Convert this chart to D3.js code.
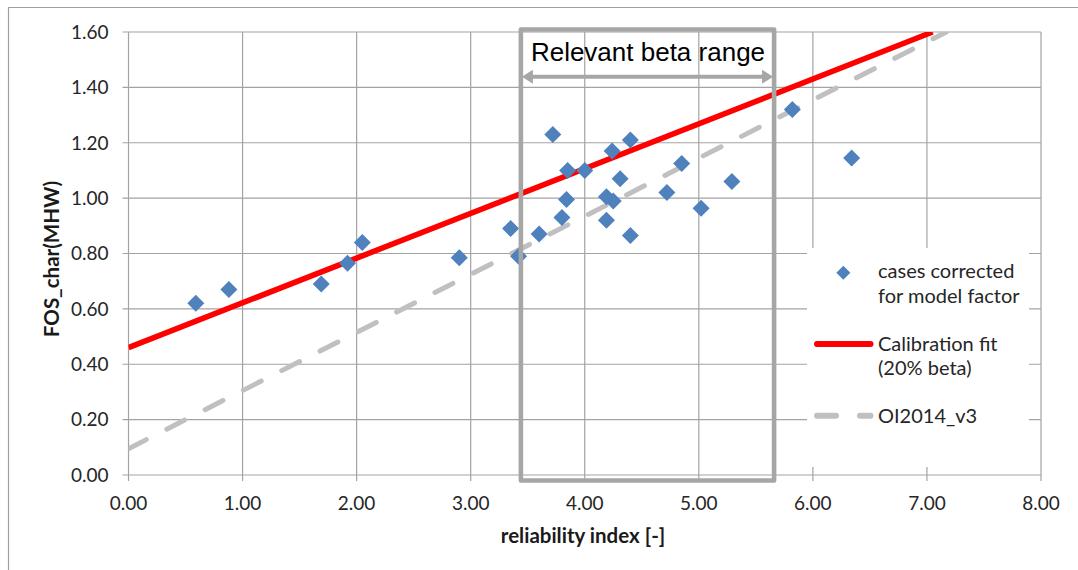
<!DOCTYPE html>
<html>
<head>
<meta charset="utf-8">
<script src="https://cdn.jsdelivr.net/npm/d3@7"></script>
<style>
  html, body { margin: 0; padding: 0; background: #ffffff; }
  svg { display: block; }
  .tick-label { font-family: Lato, "Open Sans", sans-serif; font-size: 19px; fill: #262626; }
  .axis-title { font-family: Lato, "Open Sans", sans-serif; font-size: 20.5px; font-weight: bold; fill: #1a1a1a; }
  .legend-text { font-family: Lato, "Open Sans", sans-serif; font-size: 20px; fill: #262626; }
  .note { font-family: "Liberation Sans", Arial, sans-serif; font-size: 26px; fill: #000; }
</style>
</head>
<body>
<svg id="chart" width="1078" height="570"></svg>
<script>
// Reliability index vs. characteristic factor of safety
const beta = [0.59, 0.88, 1.69, 1.92, 2.05, 2.90, 3.35, 3.42, 3.60, 3.72, 3.80, 3.84, 3.85, 4.00,
              4.19, 4.19, 4.25, 4.24, 4.31, 4.40, 4.40, 4.72, 4.85, 5.02, 5.29, 5.82, 6.34];
const fos  = [0.62, 0.67, 0.69, 0.765, 0.84, 0.785, 0.89, 0.79, 0.87, 1.23, 0.93, 0.995, 1.10, 1.10,
              0.92, 1.005, 0.99, 1.17, 1.07, 1.21, 0.865, 1.02, 1.125, 0.963, 1.06, 1.32, 1.145];

// Calibration fit (20% beta): end points
const fitBeta = [0, 7.05];
const fitFos  = [0.46, 1.60];

// OI2014_v3 reference line: end points
const oiBeta = [0, 7.17];
const oiFos  = [0.095, 1.60];

// Relevant beta range
const betaRange = [3.44, 5.66];

const xTicks = [0, 1, 2, 3, 4, 5, 6, 7, 8];
const yTicks = [0, 0.2, 0.4, 0.6, 0.8, 1.0, 1.2, 1.4, 1.6];

const seriesNames = ["cases corrected|for model factor", "Calibration fit|(20% beta)", "OI2014_v3"];

const svg = d3.select("#chart");
const W = 1078, H = 570;
const plot = { left: 128.5, right: 1041, top: 32, bottom: 475 };

const x = d3.scaleLinear().domain([0, 8]).range([plot.left, plot.right]);
const y = d3.scaleLinear().domain([0, 1.6]).range([plot.bottom, plot.top]);
const fmt = d3.format(".2f");

const gridColor = "#a3a3a3";
const boxColor = "#a6a6a6";

// chart frame (left and top edges)
svg.append("path")
  .attr("d", `M8.5,${H} L8.5,7.5 L${W},7.5`)
  .attr("fill", "none").attr("stroke", "#a0a0a0").attr("stroke-width", 1.2);

// gridlines
svg.append("g").selectAll("line").data(xTicks).join("line")
  .attr("x1", d => x(d)).attr("x2", d => x(d))
  .attr("y1", plot.top).attr("y2", plot.bottom + 6)
  .attr("stroke", gridColor).attr("stroke-width", 1.2);
svg.append("g").selectAll("line").data(yTicks).join("line")
  .attr("x1", plot.left - 6).attr("x2", plot.right)
  .attr("y1", d => y(d)).attr("y2", d => y(d))
  .attr("stroke", gridColor).attr("stroke-width", 1.2);

// tick labels
svg.append("g").selectAll("text").data(yTicks).join("text")
  .attr("class", "tick-label")
  .attr("x", plot.left - 20).attr("y", d => y(d))
  .attr("dy", "0.36em").attr("text-anchor", "end")
  .text(fmt);
svg.append("g").selectAll("text").data(xTicks).join("text")
  .attr("class", "tick-label")
  .attr("x", d => x(d)).attr("y", 509.5)
  .attr("text-anchor", "middle")
  .text(fmt);

// axis titles
svg.append("text").attr("class", "axis-title")
  .attr("transform", "translate(58.5,259) rotate(-90)")
  .attr("text-anchor", "middle")
  .text("FOS_char(MHW)");
svg.append("text").attr("class", "axis-title")
  .attr("x", 583).attr("y", 543)
  .attr("text-anchor", "middle")
  .text("reliability index [-]");

// legend background covers the gridlines
svg.append("rect")
  .attr("x", 807).attr("y", 248).attr("width", 222).attr("height", 219)
  .attr("fill", "#ffffff");

// lines, clipped to the plot area
svg.append("clipPath").attr("id", "plotClip")
  .append("rect")
  .attr("x", plot.left).attr("y", plot.top)
  .attr("width", plot.right - plot.left).attr("height", plot.bottom - plot.top);

const line = d3.line().x(d => x(d[0])).y(d => y(d[1]));
const gLines = svg.append("g").attr("clip-path", "url(#plotClip)");

gLines.append("path")
  .datum(d3.zip(oiBeta, oiFos))
  .attr("d", line)
  .attr("fill", "none").attr("stroke", "#c0c0c0")
  .attr("stroke-width", 5).attr("stroke-linecap", "round")
  .attr("stroke-dasharray", "20,23");

gLines.append("path")
  .datum(d3.zip(fitBeta, fitFos))
  .attr("d", line)
  .attr("fill", "none").attr("stroke", "#ff0000")
  .attr("stroke-width", 5.6);

// scatter points
const diamond = s => `M0,${-s} L${s},0 L0,${s} L${-s},0 Z`;
svg.append("g").selectAll("path").data(d3.zip(beta, fos)).join("path")
  .attr("transform", d => `translate(${x(d[0])},${y(d[1])})`)
  .attr("d", diamond(8.5))
  .attr("fill", "#4f81bd");

// relevant beta range box and arrow
const bx0 = x(betaRange[0]), bx1 = x(betaRange[1]);
svg.append("rect")
  .attr("x", bx0).attr("y", y(1.6) - 2.5)
  .attr("width", bx1 - bx0).attr("height", y(-0.02) - y(1.6) + 2.5)
  .attr("fill", "none").attr("stroke", boxColor).attr("stroke-width", 4.6)
  .attr("stroke-linejoin", "round");

const ay = 76.7;
svg.append("line")
  .attr("x1", bx0 + 8).attr("x2", bx1 - 8)
  .attr("y1", ay).attr("y2", ay)
  .attr("stroke", boxColor).attr("stroke-width", 4);
svg.append("path")
  .attr("d", `M${bx0 + 1},${ay} L${bx0 + 12},${ay - 7} L${bx0 + 12},${ay + 7} Z`)
  .attr("fill", boxColor);
svg.append("path")
  .attr("d", `M${bx1 - 1},${ay} L${bx1 - 12},${ay - 7} L${bx1 - 12},${ay + 7} Z`)
  .attr("fill", boxColor);

svg.append("text").attr("class", "note")
  .attr("x", (bx0 + bx1) / 2 + 0.5).attr("y", 60.5)
  .attr("text-anchor", "middle")
  .text("Relevant beta range");

// legend
const lx = 878;
const legend = svg.append("g");
legend.append("path")
  .attr("transform", "translate(843.3,272.7)")
  .attr("d", diamond(7))
  .attr("fill", "#4f81bd");
legend.append("line")
  .attr("x1", 817).attr("x2", 870.5).attr("y1", 344).attr("y2", 344)
  .attr("stroke", "#ff0000").attr("stroke-width", 6).attr("stroke-linecap", "round");
legend.append("line")
  .attr("x1", 817).attr("x2", 870.5).attr("y1", 415.7).attr("y2", 415.7)
  .attr("stroke", "#c0c0c0").attr("stroke-width", 6).attr("stroke-linecap", "round")
  .attr("stroke-dasharray", "19,24");

const legendBaselines = [[278.3, 303], [350.5, 375], [423.3]];
seriesNames.forEach((name, i) => {
  name.split("|").forEach((part, j) => {
    legend.append("text").attr("class", "legend-text")
      .attr("x", lx).attr("y", legendBaselines[i][j])
      .text(part);
  });
});
</script>
</body>
</html>
